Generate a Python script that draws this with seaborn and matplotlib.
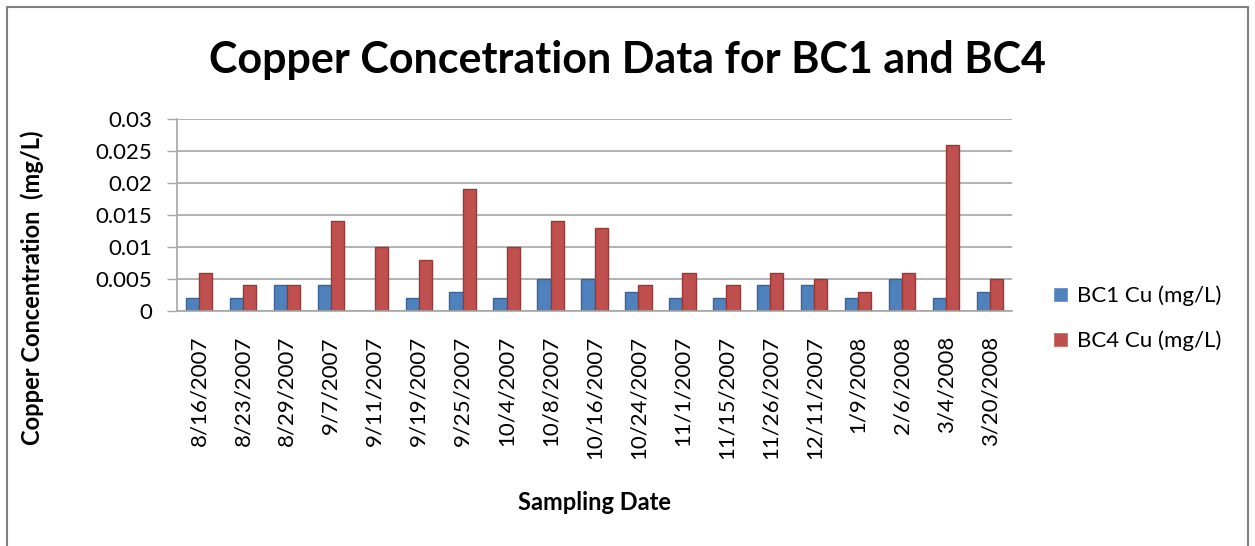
import numpy as np
import pandas as pd
import matplotlib
matplotlib.use("Agg")
import matplotlib.pyplot as plt
import seaborn as sns
from matplotlib.patches import Rectangle

dates = ["8/16/2007", "8/23/2007", "8/29/2007", "9/7/2007", "9/11/2007",
         "9/19/2007", "9/25/2007", "10/4/2007", "10/8/2007", "10/16/2007",
         "10/24/2007", "11/1/2007", "11/15/2007", "11/26/2007", "12/11/2007",
         "1/9/2008", "2/6/2008", "3/4/2008", "3/20/2008"]
bc1_cu = [0.002, 0.002, 0.004, 0.004, np.nan, 0.002, 0.003, 0.002, 0.005, 0.005,
          0.003, 0.002, 0.002, 0.004, 0.004, 0.002, 0.005, 0.002, 0.003]
bc4_cu = [0.006, 0.004, 0.004, 0.014, 0.010, 0.008, 0.019, 0.010, 0.014, 0.013,
          0.004, 0.006, 0.004, 0.006, 0.005, 0.003, 0.006, 0.026, 0.005]
series_names = ["BC1 Cu (mg/L)", "BC4 Cu (mg/L)"]
yticks = [0, 0.005, 0.01, 0.015, 0.02, 0.025, 0.03]
ytick_labels = ["0", "0.005", "0.01", "0.015", "0.02", "0.025", "0.03"]

df = pd.DataFrame({
    "date": dates * 2,
    "value": bc1_cu + bc4_cu,
    "series": [series_names[0]] * len(dates) + [series_names[1]] * len(dates),
})

sns.set_theme(style="white")
plt.rcParams["font.family"] = ["Lato", "DejaVu Sans"]
for key in ["text.color", "axes.labelcolor", "xtick.color", "ytick.color"]:
    plt.rcParams[key] = "black"

fig = plt.figure(figsize=(12.55, 5.46), dpi=100)
ax = fig.add_axes([177 / 1255, 1 - 311 / 546, (1012 - 177) / 1255, (311 - 119) / 546])

palette = {series_names[0]: "#4F81BD", series_names[1]: "#C0504D"}
sns.barplot(data=df, x="date", y="value", hue="series", order=dates,
            hue_order=series_names, palette=palette, width=0.6,
            saturation=1, errorbar=None, ax=ax, legend=True)

edge = {series_names[0]: "#3A6397", series_names[1]: "#943B39"}
for cont, name in zip(ax.containers, series_names):
    for bar in cont:
        bar.set_edgecolor(edge[name])
        bar.set_linewidth(1.0)

ax.set_ylim(0, 0.03)
ax.set_xlim(-0.5, len(dates) - 0.5)
ax.set_yticks(yticks)
ax.set_yticklabels(ytick_labels, fontsize=16)
ax.set_axisbelow(True)
ax.yaxis.grid(True, color="#A6A6A6", linewidth=1.2)
ax.xaxis.grid(False)
ax.tick_params(axis="y", left=True, length=7, color="#A6A6A6", width=1.0, pad=11)
ax.tick_params(axis="x", bottom=False, labelsize=16, pad=12)
plt.setp(ax.get_xticklabels(), rotation=90)

for side in ["top", "right"]:
    ax.spines[side].set_visible(False)
for side in ["left", "bottom"]:
    ax.spines[side].set_color("#A6A6A6")
    ax.spines[side].set_linewidth(1.2)

ax.set_xlabel("Sampling Date", fontsize=17, fontweight="bold")
ax.xaxis.set_label_coords(0.5, (311 - 503) / 192)
ax.xaxis.label.set_va("center")
ax.set_ylabel("Copper Concentration  (mg/L)", fontsize=17, fontweight="bold")
ax.yaxis.set_label_coords((32 - 177) / 835, (311 - 288) / 192)
ax.yaxis.label.set_va("center")

fig.text(0.5, 1 - 60 / 546, "Copper Concetration Data for BC1 and BC4",
         ha="center", va="center", fontsize=31, fontweight="bold")

leg = ax.legend(loc="center left", bbox_to_anchor=(1.025, -0.04), frameon=False,
                fontsize=16, handlelength=0.7, handleheight=0.7,
                handletextpad=0.4, labelspacing=1.1)

fig.patches.append(Rectangle((7 / 1255, -0.05), (1248 - 7) / 1255, 1 - 7 / 546 + 0.05,
                             transform=fig.transFigure, fill=False,
                             edgecolor="#808080", linewidth=1.5))

fig.savefig("out.png", dpi=100)
